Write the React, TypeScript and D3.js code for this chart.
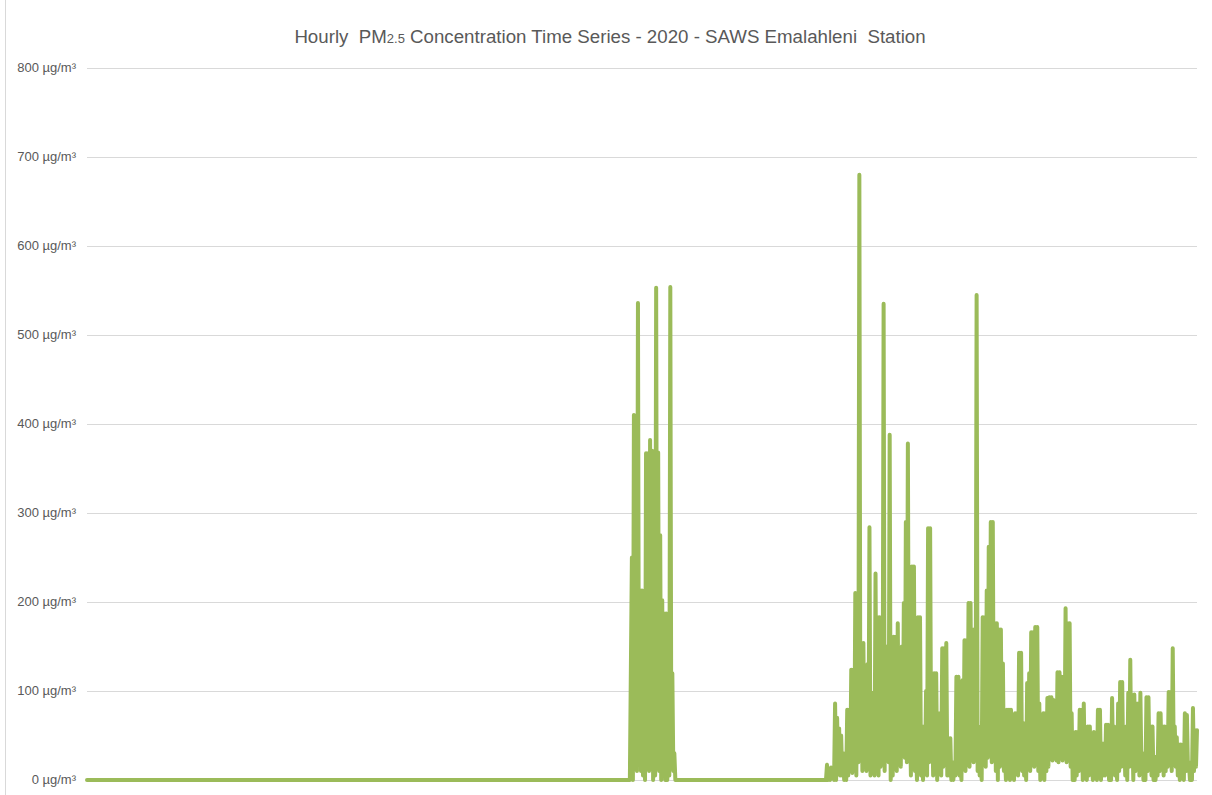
import { useEffect, useRef } from "react";
import * as d3 from "d3";

// 2020 is a leap year: 8784 hourly readings
const totalHours = 8784;
const stepHours = 16; // one peak + one trough every 16 h

// Station offline (0 µg/m³) until the first burst of readings
const offlineHours = [0, 4296];

const burstOneStartHour = 4312;
const burstOneHigh = [
  250, 410, 213, 536, 213, 213, 160, 367, 367, 382, 370, 300, 553, 368, 275,
  202, 187, 187, 120, 554, 120, 30, 0,
];
const burstOneLow = [
  0, 20, 10, 30, 10, 5, 0, 53, 10, 19, 0, 5, 20, 10, 0, 5, 0, 0, 5, 20, 10, 0, 0,
];

const burstTwoStartHour = 5840;
const burstTwoHigh = [
  0, 17, 12, 14, 10, 86, 70, 58, 50, 30, 12, 79, 79, 124, 124, 210, 150, 680,
  154, 154, 120, 130, 284, 98, 98, 232, 183, 183, 172, 535, 150, 150, 388, 30,
  161, 161, 176, 100, 150, 199, 290, 378, 75, 240, 240, 40, 183, 183, 60, 60,
  100, 283, 283, 75, 120, 120, 75, 75, 148, 148, 154, 47, 47, 20, 20, 116, 116,
  19, 112, 157, 157, 199, 199, 169, 169, 545, 60, 30, 183, 183, 213, 262, 290,
  290, 176, 176, 169, 169, 131, 30, 79, 79, 79, 40, 75, 75, 143, 143, 64, 41,
  109, 120, 166, 166, 172, 172, 86, 10, 75, 75, 92, 93, 93, 90, 60, 121, 121,
  116, 116, 193, 176, 176, 75, 20, 54, 54, 79, 79, 86, 10, 60, 60, 20, 54, 30,
  79, 79, 41, 41, 62, 62, 30, 92, 60, 20, 86, 110, 110, 53, 60, 98, 135, 60, 96,
  86, 86, 98, 30, 10, 93, 93, 60, 60, 26, 26, 75, 75, 60, 60, 50, 99, 99, 148,
  60, 48, 40, 40, 10, 75, 73, 20, 10, 81, 56, 56,
];
const burstTwoLow = [
  0, 0, 0, 5, 0, 0, 10, 5, 5, 0, 0, 5, 10, 8, 15, 5, 20, 30, 10, 20, 10, 15,
  5, 10, 5, 20, 5, 15, 30, 10, 25, 20, 0, 5, 15, 10, 25, 15, 30, 25, 20, 30,
  5, 25, 10, 0, 20, 5, 0, 10, 5, 20, 30, 5, 15, 0, 10, 5, 15, 20, 5, 5, 0,
  0, 5, 10, 5, 0, 15, 10, 20, 15, 25, 20, 30, 10, 5, 0, 20, 15, 25, 30, 20,
  35, 10, 0, 15, 20, 10, 0, 10, 0, 15, 0, 10, 5, 20, 10, 5, 0, 15, 10, 20, 15,
  25, 10, 0, 5, 0, 10, 15, 25, 22, 25, 22, 20, 30, 22, 40, 20, 50, 15, 0, 0, 5,
  10, 15, 0, 10, 0, 5, 10, 0, 5, 0, 10, 0, 5, 5, 10, 0, 0, 20, 5, 0, 10, 15,
  20, 5, 0, 15, 20, 0, 10, 15, 5, 15, 0, 0, 10, 15, 5, 0, 0, 5, 10, 15, 5,
  10, 15, 20, 10, 25, 15, 5, 0, 5, 0, 10, 15, 0, 0, 10, 15, 20,
];

const yTicks = [0, 100, 200, 300, 400, 500, 600, 700, 800];

export default function App() {
  const svgRef = useRef<SVGSVGElement>(null);
  const width = 1212;
  const height = 795;

  useEffect(() => {
    if (!svgRef.current) return;
    d3.select(svgRef.current).selectAll("*").remove();
    const svg = d3.select(svgRef.current);

    const left = 87;
    const right = 1197;
    const top = 68;
    const bottom = 780;
    const font = "'Liberation Sans Narrow', 'Arial Narrow', 'Liberation Sans', Arial, sans-serif";

    // Build the series: each 16 h window gives its peak then its trough
    const points: [number, number][] = offlineHours.map((h) => [h, 0] as [number, number]);
    const addBurst = (start: number, high: number[], low: number[]) => {
      high.forEach((v, i) => {
        const h = start + i * stepHours;
        points.push([h, v]);
        if (h + stepHours / 2 <= totalHours) points.push([h + stepHours / 2, low[i]]);
      });
    };
    addBurst(burstOneStartHour, burstOneHigh, burstOneLow);
    addBurst(burstTwoStartHour, burstTwoHigh, burstTwoLow);

    const x = d3.scaleLinear().domain([0, totalHours]).range([left, right]);
    const y = d3.scaleLinear().domain([0, 800]).range([bottom, top]);

    svg.append("rect").attr("width", width).attr("height", height).attr("fill", "#ffffff");

    // chart border (only left edge falls inside the picture)
    svg
      .append("line")
      .attr("x1", 5.5)
      .attr("x2", 5.5)
      .attr("y1", 0)
      .attr("y2", height)
      .attr("stroke", "#d9d9d9")
      .attr("stroke-width", 1);

    // Gridlines
    yTicks.forEach((t) => {
      svg
        .append("line")
        .attr("x1", left)
        .attr("x2", right)
        .attr("y1", Math.round(y(t)) + 0.5)
        .attr("y2", Math.round(y(t)) + 0.5)
        .attr("stroke", "#d9d9d9")
        .attr("stroke-width", 1);
    });

    // Y labels
    yTicks.forEach((t) => {
      svg
        .append("text")
        .attr("x", 76)
        .attr("y", y(t) + 4)
        .attr("text-anchor", "end")
        .attr("font-family", font)
        .attr("font-size", "13px")
        .attr("fill", "#595959")
        .text(`${t} µg/m³`);
    });

    // Series line
    const line = d3
      .line<[number, number]>()
      .x((d) => x(d[0]))
      .y((d) => y(d[1]));

    svg
      .append("path")
      .datum(points)
      .attr("d", line)
      .attr("fill", "none")
      .attr("stroke", "#9bbb59")
      .attr("stroke-width", 4)
      .attr("stroke-linejoin", "round")
      .attr("stroke-linecap", "round");

    // Title
    const title = svg
      .append("text")
      .attr("x", 610)
      .attr("y", 43)
      .attr("text-anchor", "middle")
      .attr("font-family", font)
      .attr("font-size", "18.7px")
      .attr("fill", "#595959")
      .style("white-space", "pre");
    title.append("tspan").text("Hourly  PM");
    title.append("tspan").attr("font-size", "13px").text("2.5");
    title.append("tspan").text(" Concentration Time Series - 2020 - SAWS Emalahleni  Station");
  }, []);

  return (
    <svg
      ref={svgRef}
      width={width}
      height={height}
      style={{ position: "absolute", left: 0, top: 0 }}
    ></svg>
  );
}
